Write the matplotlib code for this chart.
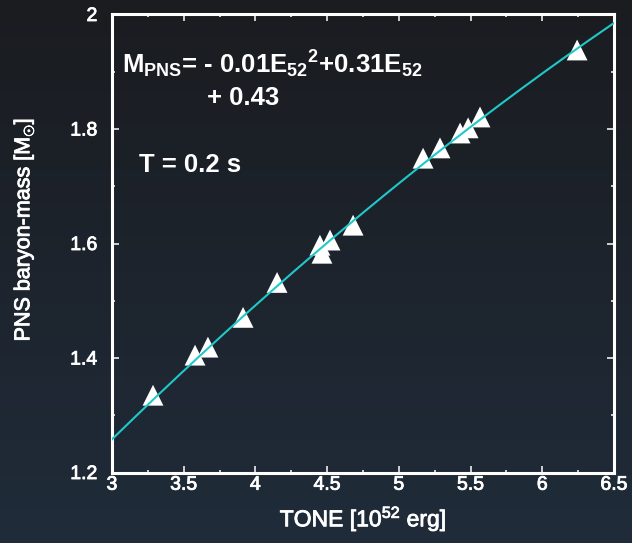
import numpy as np
import matplotlib.pyplot as plt
import matplotlib.patheffects as pe
from matplotlib.ticker import MultipleLocator

plt.rcParams["font.family"] = ["Liberation Sans", "DejaVu Sans"]
plt.rcParams["mathtext.fontset"] = "custom"
plt.rcParams["mathtext.rm"] = "Liberation Sans"
plt.rcParams["mathtext.it"] = "Liberation Sans"
plt.rcParams["mathtext.bf"] = "Liberation Sans:bold"

# explosion energy (1e52 erg) and PNS baryon mass (Msun)
energy = [3.286, 3.579, 3.669, 3.914, 4.151, 4.450, 4.464, 4.520, 4.681,
          5.169, 5.287, 5.427, 5.483, 5.566, 6.243]
mass = [1.335, 1.405, 1.419, 1.471, 1.532, 1.597, 1.583, 1.606, 1.632,
        1.749, 1.767, 1.793, 1.802, 1.821, 1.938]

# quadratic fit M = a E^2 + b E + c (label shows rounded values)
fit_a, fit_b, fit_c = -0.0105, 0.3075, 0.43

x_ticks = [3, 3.5, 4, 4.5, 5, 5.5, 6, 6.5]
y_ticks = [1.2, 1.4, 1.6, 1.8, 2.0]

FG = "white"
LINE = "#20c8c8"
thick = [pe.withStroke(linewidth=0.6, foreground=FG)]


def main():
    fig = plt.figure(figsize=(6.32, 5.43), dpi=100)

    # dark slate background, slightly bluer towards the bottom
    bg = fig.add_axes([0, 0, 1, 1], zorder=-10)
    top = np.array([26, 28, 32]) / 255
    bot = np.array([32, 44, 58]) / 255
    t = np.linspace(0, 1, 256)[:, None, None]
    grad = np.repeat(top * (1 - t) + bot * t, 4, axis=1)
    bg.imshow(grad, aspect="auto", extent=[0, 1, 0, 1])
    bg.axis("off")

    ax = fig.add_axes([0.1772, 0.1298, 0.7943, 0.8435])
    ax.patch.set_alpha(0)

    ax.scatter(energy, mass, marker="^", s=225, color=FG, edgecolor="none",
               zorder=2, clip_on=False)

    xs = np.linspace(3, 6.5, 200)
    ax.plot(xs, fit_a * xs ** 2 + fit_b * xs + fit_c, color=LINE, lw=1.5, zorder=3)

    ax.set_xlim(3, 6.5)
    ax.set_ylim(1.2, 2.0)
    ax.set_xticks(x_ticks)
    ax.set_xticklabels([f"{v:g}" for v in x_ticks])
    ax.set_yticks(y_ticks)
    ax.set_yticklabels([f"{v:g}" for v in y_ticks])
    ax.xaxis.set_minor_locator(MultipleLocator(0.25))
    ax.yaxis.set_minor_locator(MultipleLocator(0.1))

    ax.tick_params(which="both", direction="in", top=True, right=True,
                   color=FG, width=1.1, labelcolor=FG, labelsize=14)
    ax.tick_params(which="major", length=5)
    ax.tick_params(which="minor", length=2.5)
    ax.tick_params(axis="x", which="major", pad=3)
    ax.tick_params(axis="y", which="major", pad=10.5)
    for lbl in ax.get_xticklabels() + ax.get_yticklabels():
        lbl.set_path_effects(thick)
    for sp in ax.spines.values():
        sp.set_edgecolor(FG)
        sp.set_linewidth(2.2)

    ax.set_xlabel("TONE [10$^{52}$ erg]", color=FG, fontsize=16.5,
                  path_effects=thick)
    ax.xaxis.set_label_coords(0.5, -0.067)
    ax.set_ylabel(r"PNS baryon-mass [M$_{\odot}$]", color=FG, fontsize=15.5,
                  path_effects=thick)
    ax.yaxis.set_label_coords(-0.15, 0.53)

    kw = dict(transform=ax.transAxes, color=FG, fontsize=18.5,
              fontweight="bold", va="baseline")
    ax.text(0.02, 0.872,
            r"M$_{\mathbf{PNS}}$= - 0.01E$_{\mathbf{52}}{}^{\mathbf{2}}$+0.31E$_{\mathbf{52}}$",
            **kw)
    ax.text(0.189, 0.802, "+ 0.43", **kw)
    ax.text(0.054, 0.656, "T = 0.2 s", **kw)

    fig.savefig("out.png", dpi=100)
    plt.close(fig)


if __name__ == "__main__":
    main()
